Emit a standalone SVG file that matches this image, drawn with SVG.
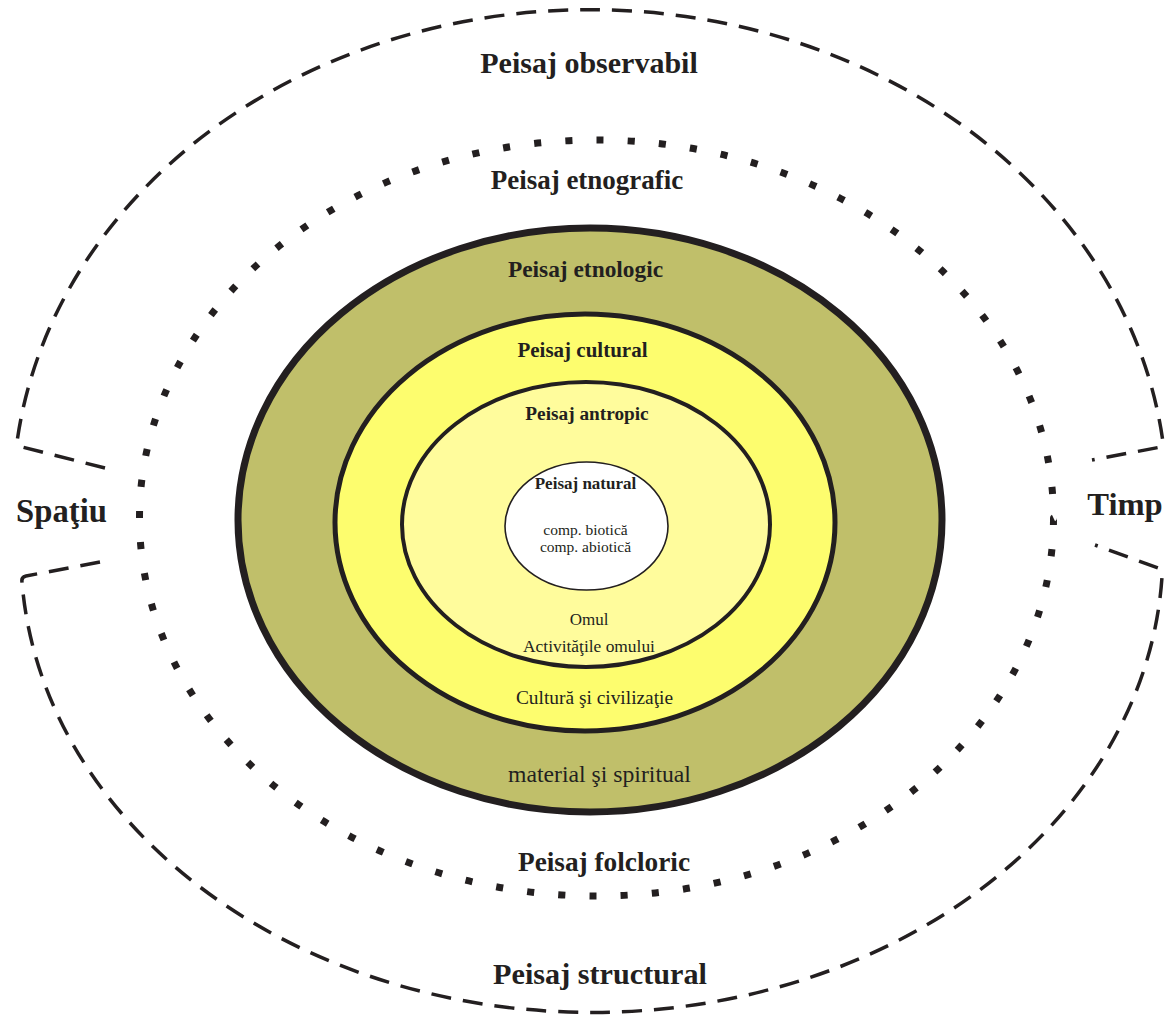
<svg xmlns="http://www.w3.org/2000/svg" width="1173" height="1020" viewBox="0 0 1173 1020">
<style>
.t{font-family:"Liberation Serif","Times New Roman",serif;fill:#231F20;text-anchor:middle}
.b{font-weight:bold}
.ring{stroke:#231F20}
.dash{fill:none;stroke:#231F20;stroke-width:3.5;stroke-dasharray:20 12;stroke-linejoin:round}
</style>
<rect width="1173" height="1020" fill="#FFFFFF"/>
<g id="connectors">
<path class="dash" d="M 105 468 L 22 447 Q 17 445 17.3 440 A 577 490 0 0 1 1162.7 440 L 1161 447 L 1092 460"/>
<path class="dash" d="M 100 562 L 26 576 Q 21 577 22 582 A 571 460 0 0 0 1162 577 Q 1164 571 1158 568 L 1095 545"/>
</g>
<g id="peisaj-etnografic-folcloric">
<ellipse cx="596.5" cy="518" rx="457" ry="378" fill="none" stroke="#231F20" stroke-width="7" pathLength="2604" stroke-dasharray="7 24"/>
</g>
<g id="peisaj-etnologic">
<ellipse class="ring" cx="590" cy="520" rx="352" ry="292" fill="#C0BF6A" stroke-width="7"/>
</g>
<g id="peisaj-cultural">
<ellipse class="ring" cx="585" cy="522.5" rx="250" ry="208.5" fill="#FDFD6E" stroke-width="5"/>
</g>
<g id="peisaj-antropic">
<ellipse class="ring" cx="586" cy="524.5" rx="184" ry="142.5" fill="#FFFC9C" stroke-width="4"/>
</g>
<g id="peisaj-natural">
<ellipse class="ring" cx="586.5" cy="526" rx="81.5" ry="64" fill="#FFFFFF" stroke-width="1.6"/>
<text class="t b" x="585.5" y="489" font-size="17">Peisaj natural</text>
<text class="t" x="585.5" y="535" font-size="15.5">comp. biotică</text>
<text class="t" x="585.5" y="552" font-size="15.5">comp. abiotică</text>
</g>
<g id="labels">
<text class="t b" x="589" y="73" font-size="30">Peisaj observabil</text>
<text class="t b" x="587" y="189" font-size="27">Peisaj etnografic</text>
<text class="t b" x="585.5" y="277" font-size="23.4">Peisaj etnologic</text>
<text class="t b" x="582.5" y="357" font-size="21">Peisaj cultural</text>
<text class="t b" x="587" y="420" font-size="19.3">Peisaj antropic</text>
<text class="t" x="589" y="625" font-size="17">Omul</text>
<text class="t" x="589" y="652" font-size="17.4">Activităţile omului</text>
<text class="t" x="594.5" y="704" font-size="19.4">Cultură şi civilizaţie</text>
<text class="t" x="599.5" y="782" font-size="23.7">material şi spiritual</text>
<text class="t b" x="604" y="871" font-size="27.3">Peisaj folcloric</text>
<text class="t b" x="600" y="984" font-size="30.2">Peisaj structural</text>
<text class="t b" x="61.5" y="522" font-size="32.7">Spaţiu</text>
<text class="t b" x="1125" y="515" font-size="32.6">Timp</text>
</g>
</svg>
